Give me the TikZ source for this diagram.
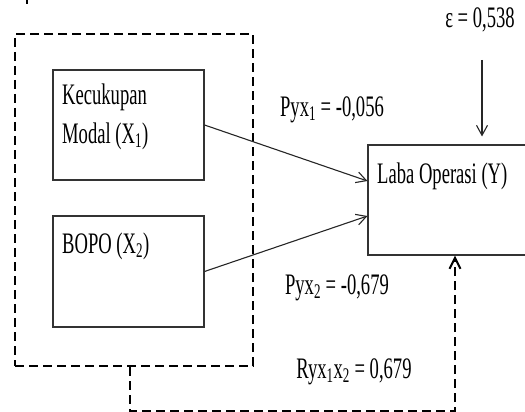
\documentclass[tikz,border=0pt]{standalone}
\usepackage{fontspec}
\setmainfont{Liberation Serif}
\usetikzlibrary{arrows.meta}
\newcommand{\tx}[1]{\scalebox{1}[1.6]{#1}}
\tikzset{
  box/.style={draw=black!80, line width=1.1pt, rectangle, inner sep=0pt},
  lbl/.style={inner sep=0pt, font=\fontsize{18.6pt}{22pt}\selectfont},
  dline/.style={draw=black, line width=2.2pt, dash pattern=on 9pt off 5pt},
  arr/.style={draw=black!85, line width=1.1pt, -{Straight Barb[length=10pt,width=11pt]}},
  darr/.style={dline, -{Straight Barb[length=11pt,width=11pt,line width=2pt]}}
}
\begin{document}
\begin{tikzpicture}[x=1pt,y=-1pt]
\useasboundingbox (0,0) rectangle (525,412);
\clip (0,0) rectangle (525,412);
% remnant mark at top
\draw[line width=2pt] (27,0) -- (27,4);
% dashed group box
\node[dline, rectangle, minimum width=238pt, minimum height=332pt, inner sep=0pt] (dr) at (134,200) {};
% independent variable boxes
\node[box, minimum width=151pt, minimum height=110pt] (x1) at (128.5,125) {};
\node[lbl, anchor=west] (x1a) at (62,97) {\tx{Kecukupan}};
\node[lbl, anchor=west] (x1b) at (62,136) {\tx{Modal (X\textsubscript{1})}};
\node[box, minimum width=151pt, minimum height=111pt] (x2) at (128.5,271.5) {};
\node[lbl, anchor=west] (x2a) at (62,246) {\tx{BOPO (X\textsubscript{2})}};
% dependent variable box
\node[box, minimum width=192pt, minimum height=110pt] (y) at (464,200) {};
\node[lbl, anchor=west] (ya) at (377,176) {\tx{Laba Operasi (Y)}};
% epsilon
\node[lbl] (eps) at (480,20) {\tx{ε = 0,538}};
\coordinate (es) at (482,60);
\draw[arr] (es) -- ([xshift=18pt]y.north |- es) -- ([xshift=18pt, yshift=8pt]y.north);
% path coefficients
\draw[arr] (x1.east) -- ([yshift=19pt]y.west);
\draw[arr] (x2.east) -- ([yshift=-16pt]y.west);
\node[lbl] (p1) at (332,110) {\tx{Pyx\textsubscript{1} = -0,056}};
\node[lbl] (p2) at (337,288) {\tx{Pyx\textsubscript{2} = -0,679}};
\node[lbl] (r12) at (354,372) {\tx{Ryx\textsubscript{1}x\textsubscript{2} = 0,679}};
% correlation connector
\draw[darr] ([xshift=-4pt]dr.south) -- ++(0,44) -| ([xshift=-9pt]y.south);
\end{tikzpicture}
\end{document}
